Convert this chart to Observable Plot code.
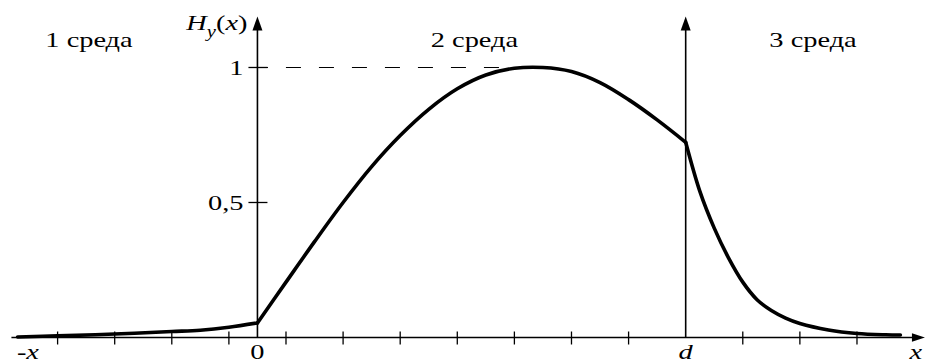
<!DOCTYPE html>
<html>
<head>
<meta charset="utf-8">
<script src="https://cdn.jsdelivr.net/npm/d3@7"></script>
<script src="https://cdn.jsdelivr.net/npm/@observablehq/plot@0.6"></script>
<style>
  body { margin: 0; background: #fff; }
</style>
</head>
<body>
<div id="chart"></div>
<script>
// Field distribution H_y(x) across three media: x < 0, 0 < x < d, x > d
const d = 7.5;

// Medium 1 (x < 0): slowly growing tail
const x1 = [-4.2, -3.5, -2.5, -1.5, -1.0, -0.5, 0];
const h1 = [0.002, 0.006, 0.013, 0.022, 0.027, 0.038, 0.054];

// Medium 2 (0 < x < d): rises to the maximum of 1, then falls to the boundary
const x2 = [0, 0.5, 1.0, 1.5, 2.0, 2.5, 3.0, 3.5, 4.0, 4.5, 5.0, 5.5, 6.0, 6.5, 7.0, 7.5];
const h2 = [0.054, 0.205, 0.355, 0.500, 0.633, 0.748, 0.845, 0.921, 0.972, 0.997, 1.0, 0.985, 0.944, 0.881, 0.806, 0.723];

// Medium 3 (x > d): decaying tail
const x3 = [7.5, 7.75, 8.0, 8.25, 8.5, 8.75, 9.0, 9.25, 9.5, 10.0, 10.5, 11.0, 11.26];
const h3 = [0.723, 0.540, 0.405, 0.295, 0.205, 0.140, 0.100, 0.072, 0.052, 0.028, 0.015, 0.010, 0.009];

// Axis furniture
const xTicks = [-3.5, -2.5, -1.5, -0.5, 0.5, 1.5, 2.5, 3.5, 4.5, 5.5, 6.5, 8.5, 9.5, 10.5];
const yTicks = [0.5, 1];
const yTickLabels = ["0,5", "1"];
const mediaLabels = ["1 среда", "2 среда", "3 среда"];
const mediaX = [-2.95, 3.8, 9.73];
const xLetterLabels = ["-x", "d", "x"];
const xLetterPos = [-4.02, d, 11.53];
const axisName = "H";
const peakX = 4.4;

const xStart = -4.3, xEnd = 11.69, yTop = 1.189;

const rows = [
  ...x1.map((x, i) => ({x, h: h1[i], medium: 1})),
  ...x2.map((x, i) => ({x, h: h2[i], medium: 2})),
  ...x3.map((x, i) => ({x, h: h3[i], medium: 3}))
];

// Custom symbols: axis ticks and filled arrowheads
const vTick = {draw(c) { c.moveTo(0, -6); c.lineTo(0, 7); }};
const hTick = {draw(c) { c.moveTo(-9, 0); c.lineTo(10, 0); }};
const upArrow = {draw(c) { c.moveTo(0, 0); c.lineTo(5, 14); c.lineTo(-5, 14); c.closePath(); }};
const rightArrow = {draw(c) { c.moveTo(0, 0); c.lineTo(-13, 4.3); c.lineTo(-13, -4.3); c.closePath(); }};

const ink = "#000";
const font = "'Liberation Serif', 'Times New Roman', serif";

const chart = Plot.plot({
  width: 925,
  height: 363,
  margin: 0,
  x: {domain: [-4.5, 11.7], axis: null},
  y: {domain: [-0.0963, 1.2481], axis: null},
  style: {background: "#fff", fontFamily: font, fontSize: "22px", color: ink},
  marks: [
    // dashed guide at the maximum
    Plot.ruleY([1], {x1: 0, x2: peakX, stroke: ink, strokeWidth: 1.2, strokeDasharray: "15,18", strokeDashoffset: 4}),
    // axes
    Plot.ruleY([0], {x1: xStart, x2: xEnd - 0.1, stroke: ink, strokeWidth: 1.6}),
    Plot.ruleX([0, d], {y1: 0, y2: yTop - 0.04, stroke: ink, strokeWidth: 1.6}),
    Plot.dot([0, d], {x: v => v, y: yTop, symbol: upArrow, fill: ink, stroke: "none"}),
    Plot.dot([0], {x: xEnd, y: 0, symbol: rightArrow, fill: ink, stroke: "none"}),
    Plot.dot(xTicks, {x: v => v, y: 0, symbol: vTick, fill: "none", stroke: ink, strokeWidth: 1.3}),
    Plot.dot(yTicks, {x: 0, y: v => v, symbol: hTick, fill: "none", stroke: ink, strokeWidth: 1.3}),
    // field curve, one piece per medium
    Plot.line(rows, {x: "x", y: "h", z: "medium", curve: "catmull-rom", stroke: ink, strokeWidth: 3.6, strokeLinejoin: "round"}),
    // labels
    Plot.text(yTickLabels, {x: 0, y: (t, i) => yTicks[i], text: t => t, dx: -14, textAnchor: "end", fill: ink}),
    Plot.text(mediaLabels, {x: (t, i) => mediaX[i], y: 1.075, text: t => t, lineAnchor: "bottom", fill: ink}),
    Plot.text(["0"], {x: 0, y: -0.078, text: t => t, lineAnchor: "bottom", fill: ink}),
    Plot.text(xLetterLabels, {x: (t, i) => xLetterPos[i], y: -0.078, text: t => t, lineAnchor: "bottom", fontStyle: "italic", fill: ink}),
    Plot.text([axisName], {x: 0, y: 1.137, dx: -10, text: t => t, textAnchor: "end", lineAnchor: "bottom", fill: ink})
  ]
});

// Axis name H_y(x) with italic letters and a subscript
const nameNode = Array.from(chart.querySelectorAll("text")).find(t => t.textContent === axisName);
if (nameNode) {
  nameNode.textContent = "";
  const parts = [
    {t: "H", style: "italic"},
    {t: "y", style: "italic", size: "16px", dy: 6},
    {t: "(", dy: -6},
    {t: "x", style: "italic"},
    {t: ")"}
  ];
  for (const p of parts) {
    const s = document.createElementNS("http://www.w3.org/2000/svg", "tspan");
    s.textContent = p.t;
    if (p.style) s.setAttribute("font-style", p.style);
    if (p.size) s.setAttribute("font-size", p.size);
    if (p.dy) s.setAttribute("dy", p.dy);
    nameNode.appendChild(s);
  }
}

// Wide serif lettering: stretch every label horizontally about its anchor
const stretchX = 1.29;
chart.querySelectorAll("text").forEach(t => {
  const tr = t.getAttribute("transform") || "";
  const ax = parseFloat(t.getAttribute("x")) || 0;
  t.setAttribute("transform", `${tr} translate(${ax},0) scale(${stretchX},1) translate(${-ax},0)`);
});

document.getElementById("chart").appendChild(chart);
</script>
</body>
</html>
